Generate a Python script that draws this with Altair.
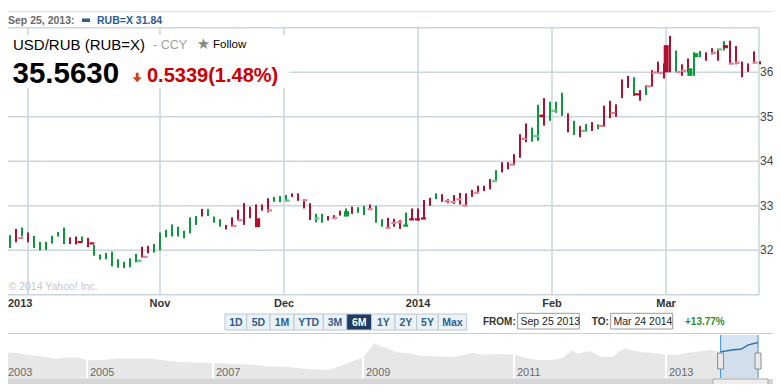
import altair as alt
import pandas as pd

FONT = "Liberation Sans"
W, H = 765, 376

# ---------------- main candlestick data (trading days, Sep 25 2013 - Mar 24 2014) -------------
HIGH = [32.14, 32.34, 32.48, 32.51, 32.40, 32.32, 32.19, 32.19, 32.33, 32.41,
        32.51, 32.29, 32.31, 32.31, 32.28, 32.12, 31.91, 31.94, 31.97, 31.80,
        31.74, 31.82, 31.92, 32.08, 32.10, 32.14, 32.40, 32.46, 32.58, 32.53,
        32.44, 32.74, 32.77, 32.93, 32.93, 32.76, 32.70, 32.57, 32.74, 32.91,
        33.06, 32.98, 33.03, 33.03, 33.17, 33.20, 33.22, 33.24, 33.28, 33.28,
        33.14, 33.06, 32.82, 32.82, 32.77, 32.79, 32.89, 32.94, 32.98, 32.97,
        33.00, 33.03, 33.00, 32.70, 32.73, 32.71, 32.68, 32.85, 32.94, 32.94,
        33.13, 33.18, 33.28, 33.26, 33.15, 33.24, 33.29, 33.28, 33.36, 33.45,
        33.45, 33.60, 33.80, 33.98, 33.98, 34.16, 34.61, 34.85, 34.76, 35.27,
        35.42, 35.34, 35.34, 35.54, 35.08, 34.91, 34.79, 34.84, 34.88, 34.83,
        35.25, 35.36, 35.28, 35.84, 35.92, 35.89, 35.60, 35.71, 36.05, 36.24,
        36.20, 36.82, 36.49, 36.18, 36.31, 36.45, 36.48, 36.45, 36.54, 36.52,
        36.70, 36.71, 36.59, 36.24, 36.20, 36.47, 36.25]
LOW = [31.85, 32.05, 32.18, 32.31, 32.18, 32.05, 32.00, 32.01, 32.15, 32.31,
       32.14, 32.14, 32.13, 32.19, 32.07, 31.88, 31.79, 31.80, 31.64, 31.61,
       31.60, 31.62, 31.73, 31.84, 31.93, 31.95, 32.00, 32.29, 32.31, 32.31,
       32.27, 32.38, 32.57, 32.76, 32.77, 32.62, 32.53, 32.47, 32.53, 32.67,
       32.57, 32.72, 32.52, 32.89, 32.85, 33.09, 33.08, 33.09, 33.20, 33.11,
       32.94, 32.68, 32.63, 32.62, 32.67, 32.70, 32.78, 32.76, 32.82, 32.84,
       32.79, 32.92, 32.62, 32.53, 32.49, 32.53, 32.48, 32.55, 32.68, 32.67,
       32.70, 33.00, 33.15, 33.09, 33.06, 33.04, 33.03, 33.00, 33.20, 33.28,
       33.33, 33.37, 33.54, 33.75, 33.82, 33.92, 34.08, 34.43, 34.44, 34.46,
       34.80, 34.91, 35.09, 35.02, 34.65, 34.59, 34.54, 34.67, 34.68, 34.72,
       34.78, 34.97, 35.00, 35.42, 35.65, 35.47, 35.36, 35.49, 35.68, 35.99,
       35.86, 36.00, 36.01, 35.92, 36.01, 35.92, 36.34, 36.26, 36.40, 36.26,
       36.49, 36.20, 36.18, 35.89, 36.01, 36.22, 36.18]
UP = [0, 1, 0, 1, 0, 1, 1, 1, 1, 1,
      1, 0, 0, 1, 0, 1, 1, 1, 1, 1,
      1, 1, 1, 0, 0, 1, 1, 1, 1, 1,
      1, 1, 1, 0, 1, 1, 1, 0, 0, 0,
      0, 0, 0, 0, 0, 1, 1, 1, 0, 0,
      0, 0, 1, 1, 0, 0, 0, 1, 0, 1,
      1, 0, 1, 1, 0, 0, 0, 1, 0, 0,
      0, 0, 1, 0, 0, 0, 0, 0, 0, 0,
      0, 0, 1, 0, 0, 0, 0, 0, 1, 1,
      0, 1, 1, 1, 0, 1, 0, 1, 0, 1,
      0, 0, 0, 0, 0, 1, 0, 1, 0, 0,
      0, 0, 1, 0, 0, 1, 1, 0, 0, 0,
      1, 0, 0, 0, 0, 0, 0]

BODY_I = [2, 12, 14, 22, 23, 38, 39, 42, 44, 47, 50, 52, 55, 57, 61, 64, 65, 66, 67, 68,
          69, 70, 74, 75, 76, 77, 79, 82, 85, 87, 89, 90, 92, 97, 100, 102, 106, 108, 109, 110,
          111, 113, 114, 115, 116, 119, 120, 121, 122, 123, 126]
BODY_TOP = [32.30, 32.21, 32.18, 31.79, 31.88, 32.57, 32.70, 32.72, 32.92, 33.14,
            33.15, 32.74, 32.75, 32.88, 32.95, 32.53, 32.64, 32.66, 32.58, 32.72,
            32.72, 32.74, 33.13, 33.11, 33.17, 33.03, 33.32, 33.58, 33.95, 34.53,
            34.59, 35.05, 35.16, 34.71, 34.82, 35.11, 35.53, 35.71, 36.02, 36.01,
            36.61, 36.03, 36.06, 36.09, 36.43, 36.46, 36.54, 36.61, 36.22, 36.24, 36.24]
BODY_BOT = [32.25, 32.16, 32.13, 31.74, 31.83, 32.52, 32.65, 32.52, 32.87, 33.09,
            33.10, 32.69, 32.70, 32.76, 32.90, 32.48, 32.59, 32.61, 32.53, 32.67,
            32.67, 32.69, 33.08, 33.06, 33.12, 32.98, 33.27, 33.53, 33.90, 34.48,
            34.54, 34.99, 35.11, 34.66, 34.77, 35.06, 35.48, 35.66, 35.97, 35.96,
            36.00, 35.98, 36.01, 35.92, 36.34, 36.41, 36.49, 36.54, 36.17, 36.19, 36.19]
BODY_KIND = ["lr", "dr", "dr", "lg", "lr", "lr", "lr", "dr", "lr", "lg",
             "lr", "lg", "lr", "dg", "lr", "lr", "lr", "lr", "dg", "dr",
             "dr", "dr", "lr", "lr", "lr", "lr", "lr", "lg", "lr", "lr",
             "lg", "dr", "lg", "lg", "lr", "lr", "dr", "lr", "lr", "lr",
             "dr", "lr", "lr", "dg", "dg", "lr", "lg", "dr", "lr", "lr", "lr"]

# month boundaries expressed as trading-day positions
MONTH_POS = [4, 26, 46.67, 69, 91.33, 110.33]
MONTH_LABELS = ["2013", "Nov", "Dec", "2014", "Feb", "Mar"]
Y_TICKS = [32, 33, 34, 35, 36]
LAST_POS = 125.83

# ---------------- overview (history) data ----------------
OV_T = [2003.0, 2003.25, 2003.5, 2003.75, 2004.0, 2004.25, 2004.5, 2004.75,
        2005.0, 2005.25, 2005.5, 2005.75, 2006.0, 2006.25, 2006.5, 2006.75,
        2007.0, 2007.25, 2007.5, 2007.75, 2008.0, 2008.25, 2008.4, 2008.55, 2008.7, 2008.8, 2008.9,
        2009.0, 2009.08, 2009.15, 2009.22, 2009.3, 2009.45, 2009.6, 2009.75,
        2010.0, 2010.2, 2010.45, 2010.6, 2010.8,
        2011.0, 2011.15, 2011.3, 2011.5, 2011.65, 2011.75, 2011.85,
        2012.0, 2012.15, 2012.3, 2012.45, 2012.55, 2012.7, 2012.85,
        2013.0, 2013.15, 2013.3, 2013.45, 2013.6, 2013.73, 2013.8, 2013.9, 2014.0, 2014.1, 2014.23]
OV_V = [31.8, 31.2, 30.4, 30.0, 29.3, 28.5, 29.1, 29.2,
        27.8, 27.9, 28.7, 28.5, 28.6, 27.6, 26.9, 26.7,
        26.4, 26.0, 25.8, 24.8, 24.5, 23.6, 23.4, 23.2, 25.0, 26.5, 27.8,
        29.4, 32.5, 36.0, 34.5, 33.8, 31.5, 31.2, 29.9,
        29.6, 29.3, 31.2, 30.4, 30.8,
        30.5, 29.0, 27.9, 27.9, 29.0, 32.4, 31.0,
        32.2, 29.3, 29.6, 33.5, 32.5, 31.5, 31.2,
        30.4, 30.3, 31.4, 32.0, 32.8, 31.84, 32.2, 32.8, 33.0, 35.1, 36.2]
OV_YEARS = [2003, 2005, 2007, 2009, 2011, 2013]
OV_LABELS = ["2003", "2005", "2007", "2009", "2011", "2013"]
SEL_START, SEL_END = 2013.73, 2014.23

RANGE_BUTTONS = ["1D", "5D", "1M", "YTD", "3M", "6M", "1Y", "2Y", "5Y", "Max"]
SELECTED = "6M"

# ---------------- styling / layout ----------------
RED, GREEN = "#b0102f", "#0b9a3b"
LRED, LGREEN = "#dc8196", "#6cc88c"
GRID = "#cad5de"

XM = alt.Scale(domain=[0, LAST_POS], range=[-4, 751], nice=False, zero=False)
YM = alt.Scale(domain=[31, 37], range=[286.8, 19.8], nice=False, zero=False)
XO = alt.Scale(domain=[2003.0, 2005, 2007, 2009, 2011, 2013, 2014.23],
               range=[-3, 79, 205, 355, 506, 658, 750], nice=False, zero=False)
YO = alt.Scale(domain=[19.3, 36.0], range=[370, 335], nice=False, zero=False)
PX = alt.Scale(domain=[0, W], range=[0, W], nice=False, zero=False)

ONE = pd.DataFrame({"k": [0]})


def txt(s, x, y, size, color="#000000", weight="normal", align="left", baseline="middle", font=FONT):
    return alt.Chart(ONE).mark_text(text=s, fontSize=size, color=color, fontWeight=weight,
                                    align=align, baseline=baseline, font=font).encode(
        x=alt.value(x), y=alt.value(y))


def box(x1, x2, y1, y2, fill, stroke=None, sw=1):
    kw = dict(fill=fill)
    if stroke is not None:
        kw.update(stroke=stroke, strokeWidth=sw)
    return alt.Chart(ONE).mark_rect(**kw).encode(
        x=alt.value(x1), x2=alt.value(x2), y=alt.value(y1), y2=alt.value(y2))


def hline(x1, x2, y, color, w=1):
    return alt.Chart(ONE).mark_rule(color=color, strokeWidth=w).encode(
        x=alt.value(x1), x2=alt.value(x2), y=alt.value(y))


candles = pd.DataFrame({"i": list(range(len(HIGH))), "hi": HIGH, "lo": LOW, "up": UP})
bodies = pd.DataFrame({"i": BODY_I, "top": BODY_TOP, "bot": BODY_BOT, "kind": BODY_KIND})
hgrid = pd.DataFrame({"v": [31] + Y_TICKS + [37]})
ylab = pd.DataFrame({"v": Y_TICKS, "lab": [str(v) for v in Y_TICKS]})
vgrid = pd.DataFrame({"p": MONTH_POS + [LAST_POS]})
xlab_rest = pd.DataFrame({"p": MONTH_POS[1:], "lab": MONTH_LABELS[1:]})
ov = pd.DataFrame({"t": OV_T, "v": OV_V})
ov_sel = ov[ov["t"] >= SEL_START]
ov_years = pd.DataFrame({"t": OV_YEARS, "lab": OV_LABELS})
ov_sep = pd.DataFrame({"t": OV_YEARS[1:]})
ov_edges = pd.DataFrame({"t": [SEL_START, SEL_END]})
ov_selrect = pd.DataFrame({"t0": [SEL_START], "t1": [SEL_END]})

# buttons (layout)
BTN_EDGES = [217, 238.7, 262, 286, 315.3, 338.7, 363.7, 387, 408.7, 430.3, 458.7]
btn = pd.DataFrame({
    "lab": RANGE_BUTTONS,
    "x0": BTN_EDGES[:-1], "x1": BTN_EDGES[1:],
    "sel": [1 if b == SELECTED else 0 for b in RANGE_BUTTONS],
})
btn["xc"] = (btn["x0"] + btn["x1"]) / 2

layers = []

# --- main plot grid ---
layers.append(alt.Chart(hgrid).mark_rule(color=GRID, strokeWidth=1.5).encode(
    y=alt.Y("v:Q", scale=YM, axis=None), x=alt.value(0), x2=alt.value(751)))
layers.append(alt.Chart(vgrid).mark_rule(color=GRID, strokeWidth=1.5).encode(
    x=alt.X("p:Q", scale=XM, axis=None), y=alt.value(19.8), y2=alt.value(286.8)))

# header white box
layers.append(box(0, 281, 27, 80, "white"))

# --- candles ---
layers.append(alt.Chart(candles).mark_rule(strokeWidth=2).encode(
    x=alt.X("i:Q", scale=XM, axis=None),
    y=alt.Y("lo:Q", scale=YM, axis=None), y2="hi:Q",
    color=alt.Color("up:N", scale=alt.Scale(domain=[0, 1], range=[RED, GREEN]), legend=None)))
layers.append(alt.Chart(bodies).mark_bar(width=5).encode(
    x=alt.X("i:Q", scale=XM, axis=None),
    y=alt.Y("top:Q", scale=YM, axis=None), y2="bot:Q",
    color=alt.Color("kind:N", scale=alt.Scale(domain=["dr", "lr", "dg", "lg"],
                                              range=[RED, LRED, GREEN, LGREEN]), legend=None)))

# axis labels
layers.append(alt.Chart(ylab).mark_text(align="left", baseline="middle", fontSize=12,
                                        color="#444444", font=FONT).encode(
    y=alt.Y("v:Q", scale=YM, axis=None), x=alt.value(752), text="lab:N"))
layers.append(txt(MONTH_LABELS[0], 0, 295.5, 11, color="#333333", weight="bold"))
layers.append(alt.Chart(xlab_rest).mark_text(align="center", baseline="middle", fontSize=11,
                                             fontWeight="bold", color="#333333", font=FONT).encode(
    x=alt.X("p:Q", scale=XM, axis=None), y=alt.value(295.5), text="lab:N"))

layers.append(txt("© 2014 Yahoo! Inc.", 0.5, 279, 10.5, color="#c6c6c6"))

# --- legend strip ---
layers.append(hline(0, W, 3.7, "#d6dbe0"))
layers.append(txt("Sep 25, 2013:", 0, 12.5, 10.5, color="#6a6a6a", weight="bold"))
layers.append(box(74, 82, 10.5, 14, "#2d5b94"))
layers.append(txt("RUB=X 31.84", 89, 12.5, 10.5, color="#2d5b94", weight="bold"))

# --- header ---
layers.append(txt("USD/RUB (RUB=X)", 5, 36.5, 15))
layers.append(txt("- CCY", 145, 36.5, 12.5, color="#a0a0a0"))
layers.append(txt("★", 195.5, 36, 15, color="#8a8a8a", align="center", font="DejaVu Sans"))
layers.append(txt("Follow", 205, 36.5, 11.5))
layers.append(txt("35.5630", 4.5, 74.5, 29.5, weight="bold", baseline="alphabetic"))
ARROW = "M-0.3,-1 L0.3,-1 L0.3,-0.05 L0.95,-0.05 L0,1 L-0.95,-0.05 L-0.3,-0.05 Z"
layers.append(alt.Chart(ONE).mark_point(shape=ARROW, filled=True, size=90, color="#d2401a", opacity=1).encode(
    x=alt.value(129.2), y=alt.value(69.5)))
layers.append(txt("0.5339(1.48%)", 139, 74.3, 20, color="#cc0000", weight="bold", baseline="alphabetic"))

# --- range buttons ---
layers.append(alt.Chart(btn).mark_rect(stroke="#b9c8d6", strokeWidth=1).encode(
    x=alt.X("x0:Q", scale=PX, axis=None), x2="x1:Q",
    y=alt.value(306), y2=alt.value(322),
    fill=alt.Color("sel:N", scale=alt.Scale(domain=[0, 1], range=["#edf2f7", "#1e3b62"]), legend=None)))
layers.append(alt.Chart(btn).mark_text(fontSize=10.5, fontWeight="bold", font=FONT, baseline="middle").encode(
    x=alt.X("xc:Q", scale=PX, axis=None), y=alt.value(314.5), text="lab:N",
    color=alt.Color("sel:N", scale=alt.Scale(domain=[0, 1], range=["#2d5f93", "#ffffff"]), legend=None)))

layers.append(txt("FROM:", 475, 314, 10, color="#333333", weight="bold"))
layers.append(box(509.7, 571.3, 305.3, 321, "white", stroke="#9a9a9a"))
layers.append(txt("Sep 25 2013", 512.5, 313.5, 10.5, color="#222222"))
layers.append(txt("TO:", 583.7, 314, 10, color="#333333", weight="bold"))
layers.append(box(602.7, 664.7, 305.3, 321, "white", stroke="#9a9a9a"))
layers.append(txt("Mar 24 2014", 605.5, 313.5, 10.5, color="#222222"))
layers.append(txt("+13.77%", 677, 314, 10, color="#2e8b2e", weight="bold"))

layers.append(hline(0, W, 325.5, "#cfcfcf"))

# --- overview ---
layers.append(alt.Chart(ov).mark_area(color="#e7e7e7", opacity=1).encode(
    x=alt.X("t:Q", scale=XO, axis=None),
    y=alt.Y("v:Q", scale=YO, axis=None), y2=alt.value(370)))
layers.append(alt.Chart(ov_sep).mark_rule(color="white", strokeWidth=2).encode(
    x=alt.X("t:Q", scale=XO, axis=None), y=alt.value(327), y2=alt.value(370)))
layers.append(alt.Chart(ov_years).mark_text(align="left", baseline="middle", dx=3, fontSize=11,
                                            color="#6a6a6a", font=FONT).encode(
    x=alt.X("t:Q", scale=XO, axis=None), y=alt.value(365), text="lab:N"))
layers.append(alt.Chart(ov_selrect).mark_rect(color="#cadcee", opacity=0.75).encode(
    x=alt.X("t0:Q", scale=XO, axis=None), x2="t1:Q", y=alt.value(327), y2=alt.value(370)))
layers.append(alt.Chart(ov_sel).mark_line(color="#3470b0", strokeWidth=1.5).encode(
    x=alt.X("t:Q", scale=XO, axis=None), y=alt.Y("v:Q", scale=YO, axis=None)))
layers.append(alt.Chart(ov_edges).mark_rule(color="#3d94dd", strokeWidth=1).encode(
    x=alt.X("t:Q", scale=XO, axis=None), y=alt.value(327), y2=alt.value(370)))
HANDLE = "M-0.375,-1 L0.375,-1 L0.375,1 L-0.375,1 Z"
layers.append(alt.Chart(ov_edges).mark_point(shape=HANDLE, filled=True, size=256, fill="#e9e9e9",
                                             stroke="#8a8a8a", strokeWidth=1, opacity=1).encode(
    x=alt.X("t:Q", scale=XO, axis=None), y=alt.value(353)))

# scrollbar
layers.append(box(0, W, 371, 376, "#d6d6d6"))
layers.append(box(705, 760, 371, 377, "#ededed", stroke="#ababab"))

chart = alt.layer(*layers).resolve_scale(
    x="independent", y="independent", color="independent", fill="independent"
).properties(
    width=W, height=H, autosize=alt.AutoSizeParams(type="none"), padding=0
).configure_view(stroke=None)

chart.save("out.html", embed_options={"renderer": "svg", "actions": False})
